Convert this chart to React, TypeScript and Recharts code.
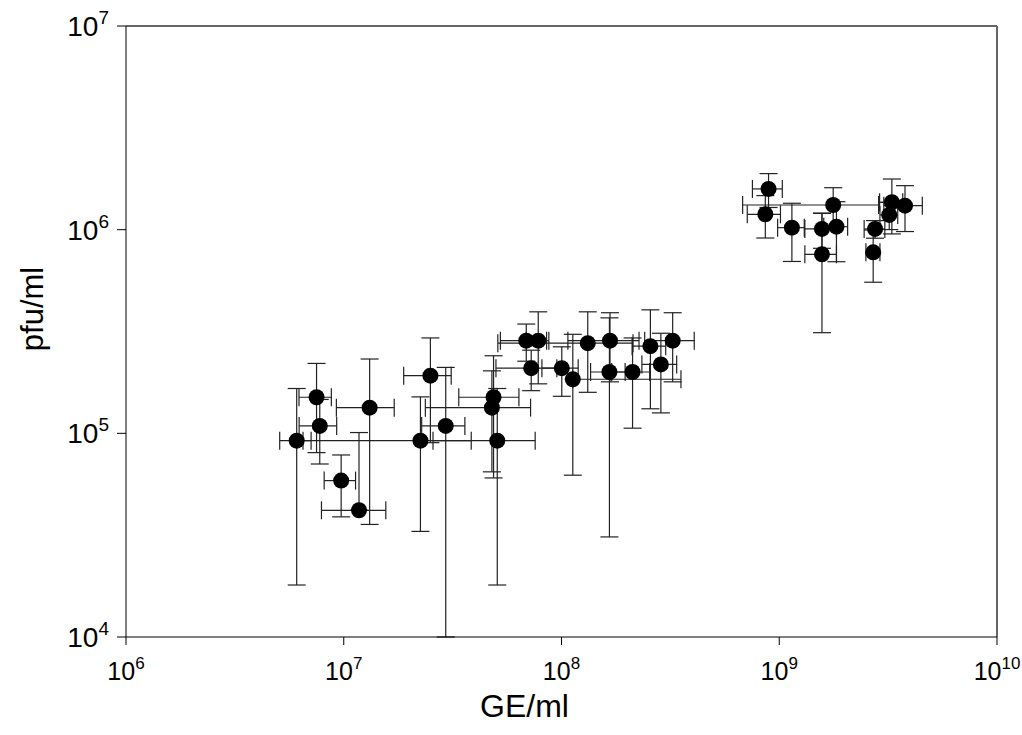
import React from 'react';
import { ScatterChart, Scatter, XAxis, YAxis, ErrorBar, ReferenceLine, Label } from 'recharts';

// GE/ml and pfu/ml, mean and SD of each sample
const geMean = [
  6.08e6, 7.5e6, 7.76e6, 9.73e6, 1.175e7, 1.315e7, 2.25e7, 2.5e7, 2.94e7, 4.875e7, 4.79e7, 5.07e7,
  6.89e7, 7.82e7, 7.26e7, 1.003e8, 1.127e8, 1.32e8, 1.67e8, 1.66e8, 2.12e8, 2.56e8, 2.86e8, 3.24e8,
  8.93e8, 8.63e8, 1.143e9, 1.769e9, 1.571e9, 1.831e9, 1.571e9, 2.754e9, 2.7e9, 3.29e9, 3.2e9, 3.78e9,
];
const geSd = [
  1.0e6, 1.27e6, 1.52e6, 1.6e6, 3.85e6, 3.9e6, 1.6e7, 6.15e6, 6.6e6, 1.5e7, 2.42e7, 2.5e7,
  1.65e7, 9.3e6, 2.26e7, 1.9e7, 2.41e8, 8.1e7, 6.0e7, 3.0e7, 4.2e7, 4.5e7, 5.2e7, 8.3e7,
  1.4e8, 1.5e8, 1.6e8, 1.09e9, 2.6e8, 2.3e8, 2.6e8, 3.0e8, 2.0e8, 4.0e8, 3.0e8, 7.6e8,
];
const pfuMean = [
  9.2e4, 1.504e5, 1.087e5, 5.86e4, 4.19e4, 1.337e5, 9.2e4, 1.92e5, 1.087e5, 1.504e5, 1.337e5, 9.2e4,
  2.85e5, 2.85e5, 2.09e5, 2.09e5, 1.843e5, 2.77e5, 2.85e5, 2.0e5, 2.0e5, 2.68e5, 2.18e5, 2.85e5,
  1.585e6, 1.19e6, 1.023e6, 1.322e6, 1.008e6, 1.034e6, 7.57e5, 1.008e6, 7.74e5, 1.363e6, 1.181e6, 1.312e6,
];
const pfuSd = [
  7.4e4, 7.0e4, 3.8e4, 1.97e4, 5.9e4, 9.8e4, 5.9e4, 1.02e5, 1.02e5, 9.0e4, 6.9e4, 7.4e4,
  5.9e4, 1.1e5, 4.7e4, 5.7e4, 1.22e5, 1.18e5, 1.06e5, 1.69e5, 9.4e4, 1.36e5, 9.2e4, 1.06e5,
  3.0e5, 2.8e5, 3.25e5, 2.85e5, 1.98e5, 3.38e5, 4.45e5, 1.0e5, 2.22e5, 4.1e5, 1.8e5, 3.33e5,
];

const xTicks = [1e6, 1e7, 1e8, 1e9, 1e10];
const yTicks = [1e4, 1e5, 1e6, 1e7];
const X_MIN = 1e6;
const Y_MIN = 1e4;

// lower arm: dropped when mean - sd <= 0 (log axis), cut at the axis when it runs past it
const lowArm = (mean: number, sd: number, min: number) => {
  if (sd >= mean) return 0;
  if (mean - sd < min) return mean - min;
  return sd;
};

const rows = geMean.map((x, i) => ({
  x,
  y: pfuMean[i],
  ex: [lowArm(x, geSd[i], X_MIN), geSd[i]],
  ey: [lowArm(pfuMean[i], pfuSd[i], Y_MIN), pfuSd[i]],
}));

const FONT = '"Liberation Sans", Arial, sans-serif';

const XTick = (props: any) => {
  const { x, y, payload } = props;
  const exp = Math.round(Math.log10(payload.value));
  return (
    <text x={x} y={y + 33} textAnchor="middle" fontFamily={FONT} fontSize={25} fill="#000">
      <tspan>10</tspan>
      <tspan dy={-11} fontSize={17}>{exp}</tspan>
    </text>
  );
};

const YTick = (props: any) => {
  const { x, y, payload } = props;
  const exp = Math.round(Math.log10(payload.value));
  return (
    <text x={x - 6} y={y + 10} textAnchor="end" fontFamily={FONT} fontSize={28} fill="#000">
      <tspan>10</tspan>
      <tspan dy={-12} fontSize={19}>{exp}</tspan>
    </text>
  );
};

const Dot = (props: any) => <circle cx={props.cx} cy={props.cy} r={8} fill="#000" />;

export default function App() {
  return (
    <div>
      <style>{'body { margin: 0; }'}</style>
      <ScatterChart width={1022} height={735} margin={{ top: 26, right: 25, left: 0, bottom: 0 }}>
        <XAxis
          dataKey="x"
          type="number"
          scale="log"
          domain={[1e6, 1e10]}
          ticks={xTicks}
          interval={0}
          allowDataOverflow
          height={98}
          tickSize={8}
          tick={<XTick />}
          axisLine={{ stroke: '#000' }}
          tickLine={{ stroke: '#000' }}
        >
          <Label
            content={(p: any) => (
              <text
                x={p.viewBox.x + p.viewBox.width / 2 - 37}
                y={p.viewBox.y + 80}
                textAnchor="middle"
                fontFamily={FONT}
                fontSize={32}
                fill="#000"
              >
                GE/ml
              </text>
            )}
          />
        </XAxis>
        <YAxis
          dataKey="y"
          type="number"
          scale="log"
          domain={[1e4, 1e7]}
          ticks={yTicks}
          interval={0}
          allowDataOverflow
          width={126}
          tickSize={9}
          tick={<YTick />}
          axisLine={{ stroke: '#000' }}
          tickLine={{ stroke: '#000' }}
        >
          <Label
            content={() => (
              <text
                x={43}
                y={309}
                transform="rotate(-90, 43, 309)"
                textAnchor="middle"
                fontFamily={FONT}
                fontSize={31}
                fill="#000"
              >
                pfu/ml
              </text>
            )}
          />
        </YAxis>
        <ReferenceLine y={1e7} stroke="#666" strokeWidth={2} />
        <ReferenceLine x={1e10} stroke="#666" strokeWidth={2} />
        <Scatter data={rows} shape={<Dot />} isAnimationActive={false}>
          <ErrorBar dataKey="ex" direction="x" width={9} stroke="#222" strokeWidth={1.2} isAnimationActive={false} />
          <ErrorBar dataKey="ey" direction="y" width={9} stroke="#222" strokeWidth={1.2} isAnimationActive={false} />
        </Scatter>
      </ScatterChart>
    </div>
  );
}
